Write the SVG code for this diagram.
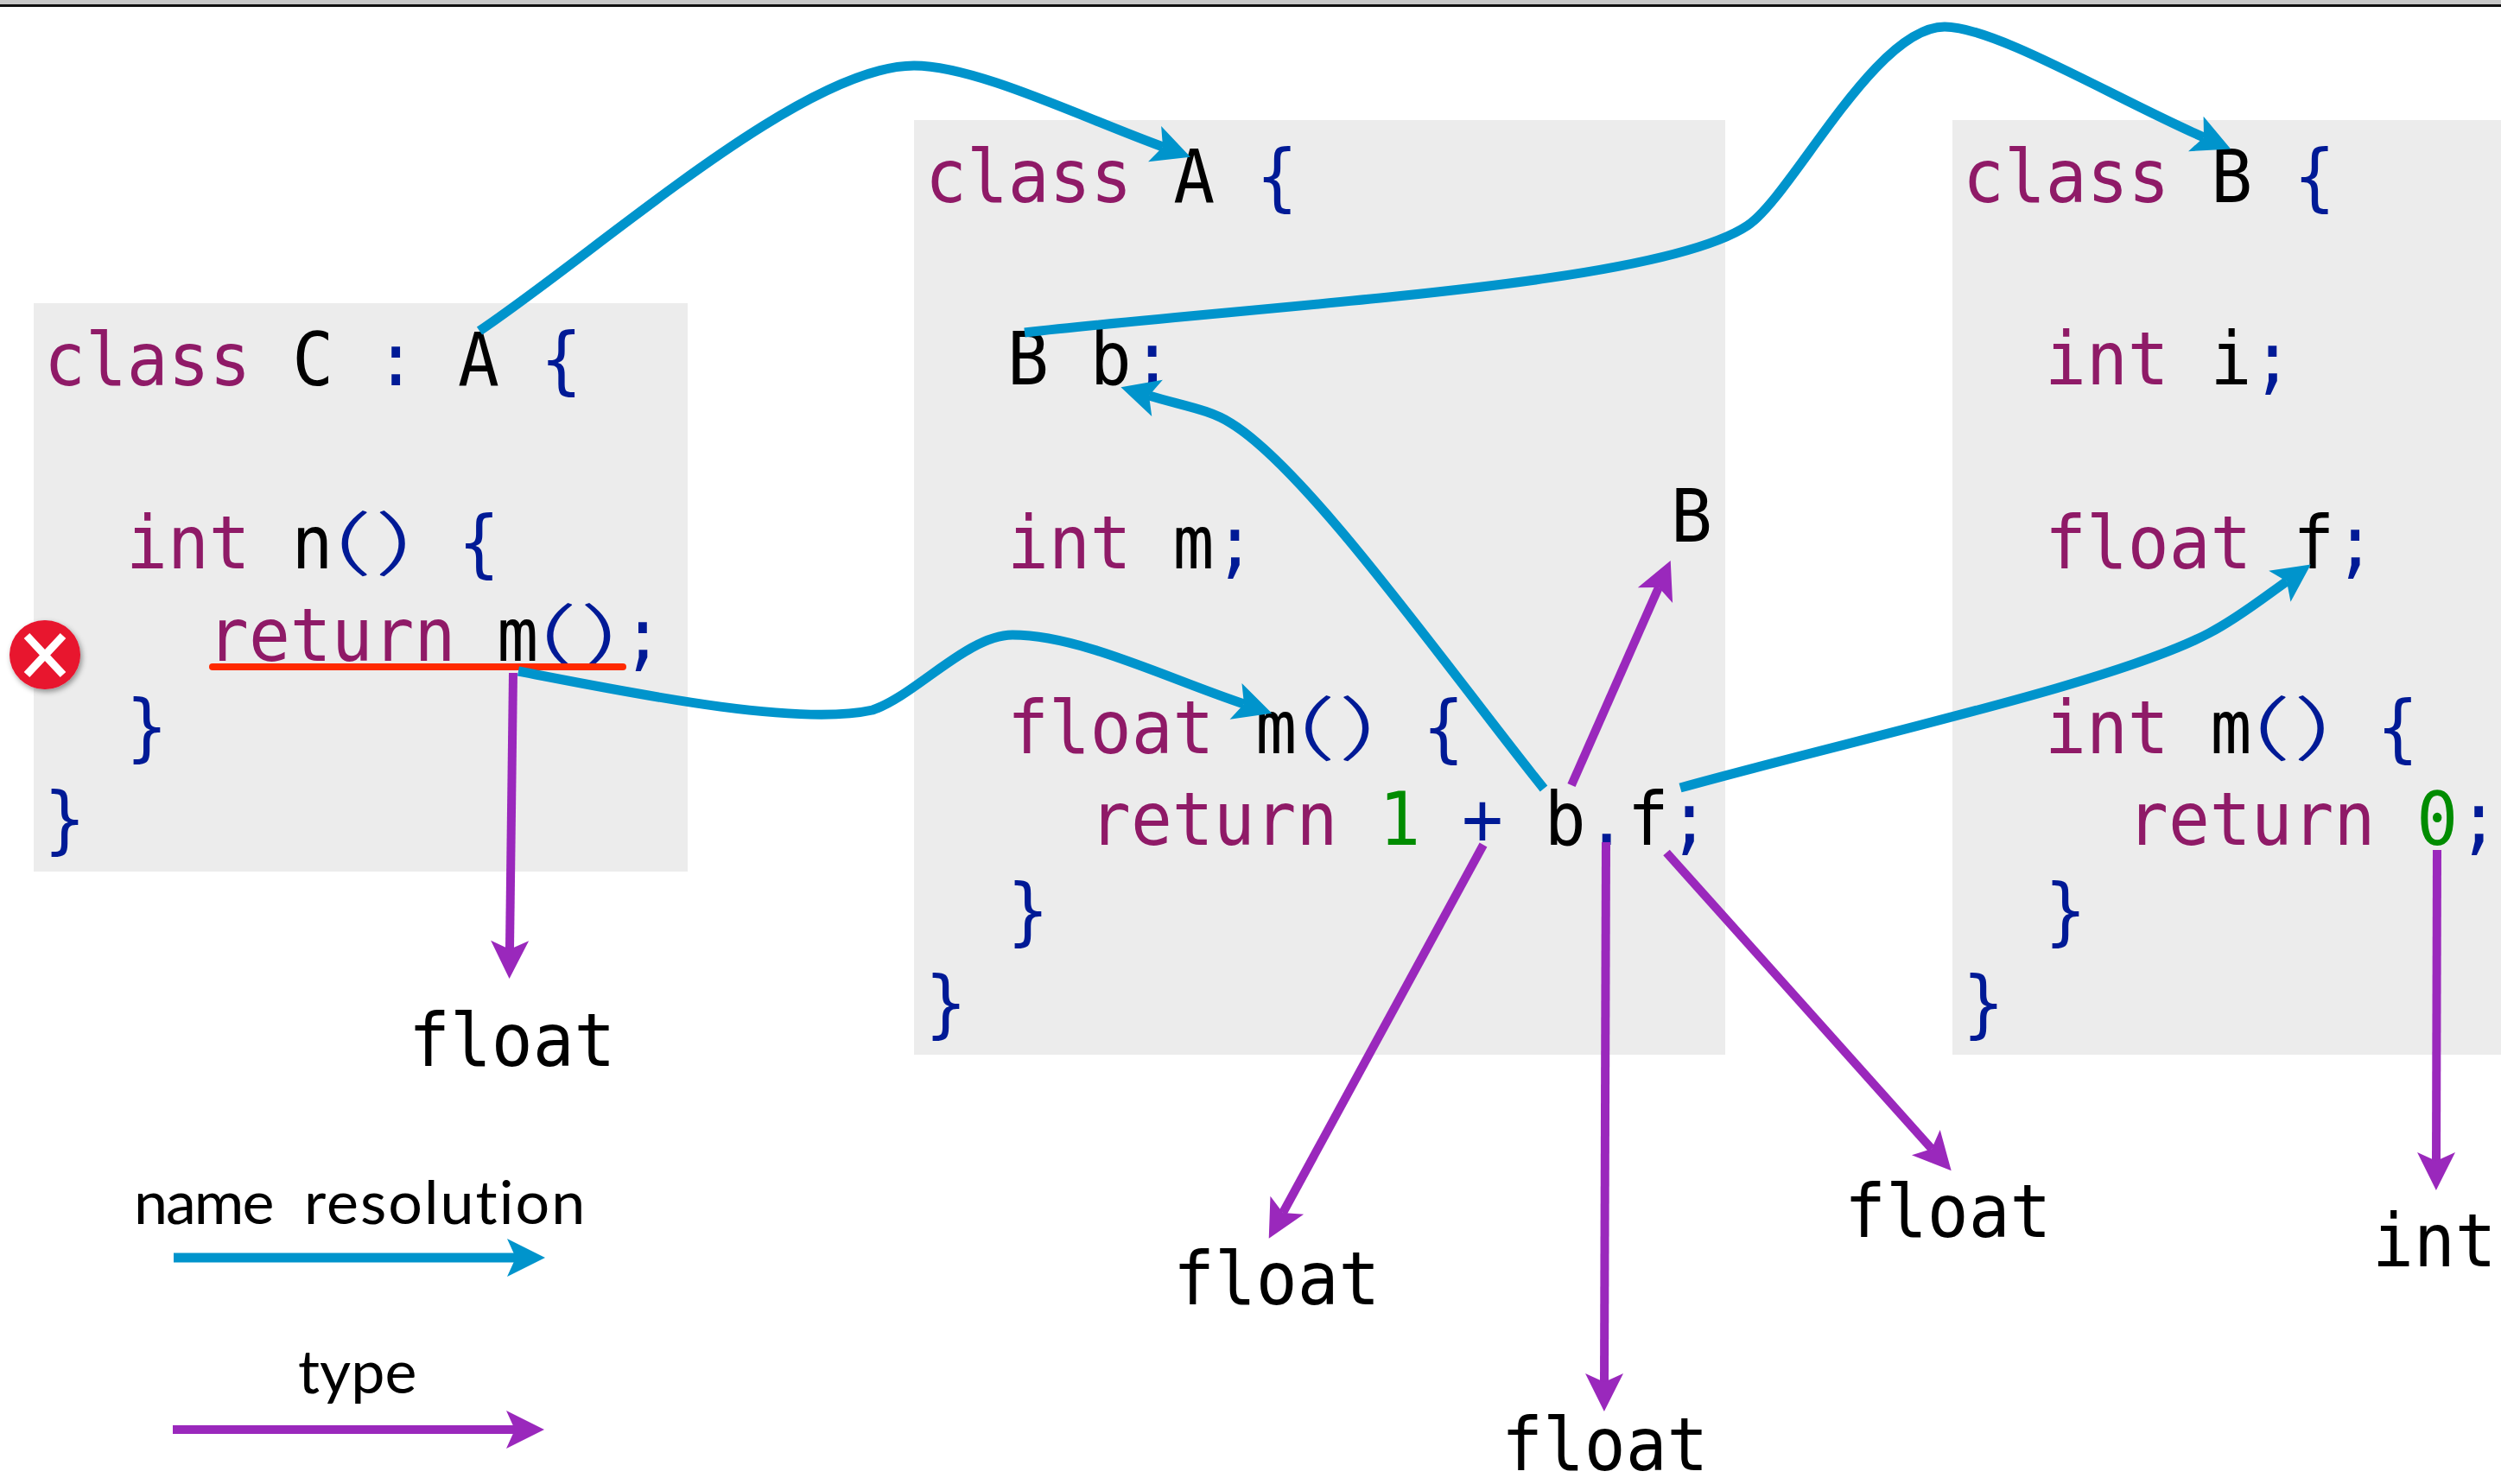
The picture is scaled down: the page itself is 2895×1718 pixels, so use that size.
<svg xmlns="http://www.w3.org/2000/svg" width="2895" height="1718" viewBox="0 0 2895 1718">
<style>
.box{fill:#ececec}
.code{font-family:"DejaVu Sans Mono",monospace;font-size:85px;fill:#000}
.paren{font-family:"Lato",sans-serif;font-weight:300;font-size:85px;letter-spacing:1px;fill:#001a96}
.k{fill:#8f1a67}.p{fill:#001a96}.n{fill:#008c00}
.legend{font-family:"Lato",sans-serif;font-size:70px;fill:#000;font-variant-ligatures:none}
.c{fill:none;stroke-width:10}
.blue{stroke:#0094cc;stroke-width:11;marker-end:url(#hb)}
.purple{stroke:#9a28bc;marker-end:url(#hp)}
</style>
<defs>
<marker id="hb" markerUnits="userSpaceOnUse" markerWidth="46" markerHeight="46" viewBox="0 -23 46 46" refX="10" refY="0" orient="auto" overflow="visible"><path d="M0-22 44 0 0 22 10 0Z" fill="#0094cc"/></marker>
<marker id="hp" markerUnits="userSpaceOnUse" markerWidth="46" markerHeight="46" viewBox="0 -23 46 46" refX="10" refY="0" orient="auto" overflow="visible"><path d="M0-22 44 0 0 22 10 0Z" fill="#9a28bc"/></marker>
<filter id="sh" x="-30%" y="-30%" width="160%" height="160%"><feDropShadow dx="2" dy="3" stdDeviation="3" flood-color="#000" flood-opacity=".4"/></filter>
</defs>
<rect width="2895" height="1718" fill="#fff"/>
<g id="window-edge"><rect width="2895" height="5" fill="#c8c8c8"/><rect y="5" width="2895" height="3" fill="#111"/></g>

<g id="class-c">
<rect class="box" x="39" y="351" width="757" height="658"/>
<text class="code" transform="translate(51 446) scale(.936 1)"><tspan class="k">class</tspan> C <tspan class="p">:</tspan> A <tspan class="p">{</tspan></text>
<text class="code" transform="translate(146 658) scale(.936 1)"><tspan class="k">int</tspan> n</text>
<text class="paren" transform="translate(386 656) scale(2.06 1)">()</text>
<text class="code p" transform="translate(530.5 658) scale(.936 1)">{</text>
<text class="code" transform="translate(240 765) scale(.936 1)"><tspan class="k">return</tspan> m</text>
<text class="paren" transform="translate(623.5 763) scale(2.06 1)">()</text>
<text class="code p" transform="translate(720 765) scale(.936 1)">;</text>
<text class="code p" transform="translate(146 871) scale(.936 1)">}</text>
<text class="code p" transform="translate(51 978) scale(.936 1)">}</text>
</g>

<g id="class-a">
<rect class="box" x="1058" y="139" width="939" height="1082"/>
<text class="code" transform="translate(1071 234) scale(.936 1)"><tspan class="k">class</tspan> A <tspan class="p">{</tspan></text>
<text class="code" transform="translate(1166 445) scale(.936 1)">B b<tspan class="p">;</tspan></text>
<text class="code" transform="translate(1166 658) scale(.936 1)"><tspan class="k">int</tspan> m<tspan class="p">;</tspan></text>
<text class="code" transform="translate(1166 872) scale(.936 1)"><tspan class="k">float</tspan> m</text>
<text class="paren" transform="translate(1501.5 870) scale(2.06 1)">()</text>
<text class="code p" transform="translate(1647 872) scale(.936 1)">{</text>
<text class="code" transform="translate(1261 978) scale(.936 1)"><tspan class="k">return</tspan> <tspan class="n">1</tspan> <tspan class="p">+</tspan> b<tspan class="p">.</tspan>f<tspan class="p">;</tspan></text>
<text class="code p" transform="translate(1166 1084) scale(.936 1)">}</text>
<text class="code p" transform="translate(1071 1191) scale(.936 1)">}</text>
</g>

<g id="class-b">
<rect class="box" x="2260" y="139" width="635" height="1082"/>
<text class="code" transform="translate(2272 234) scale(.936 1)"><tspan class="k">class</tspan> B <tspan class="p">{</tspan></text>
<text class="code" transform="translate(2367 445) scale(.936 1)"><tspan class="k">int</tspan> i<tspan class="p">;</tspan></text>
<text class="code" transform="translate(2367 658) scale(.936 1)"><tspan class="k">float</tspan> f<tspan class="p">;</tspan></text>
<text class="code" transform="translate(2367 872) scale(.936 1)"><tspan class="k">int</tspan> m</text>
<text class="paren" transform="translate(2607 870) scale(2.06 1)">()</text>
<text class="code p" transform="translate(2751.5 872) scale(.936 1)">{</text>
<text class="code" transform="translate(2462 978) scale(.936 1)"><tspan class="k">return</tspan> <tspan class="n">0</tspan><tspan class="p">;</tspan></text>
<text class="code p" transform="translate(2367 1084) scale(.936 1)">}</text>
<text class="code p" transform="translate(2272 1191) scale(.936 1)">}</text>
</g>

<g id="error-mark">
<ellipse cx="52" cy="758" rx="41" ry="40" fill="#e8132f" filter="url(#sh)"/>
<path d="M31 736 73 781M73 736 31 781" stroke="#fff" stroke-width="9" fill="none"/>
<line x1="246" y1="772" x2="721" y2="772" stroke="#ff2a00" stroke-width="8" stroke-linecap="round"/>
</g>

<g id="type-labels">
<text id="label-float-c" class="code" transform="translate(473 1234) scale(.936 1)">float</text>
<text id="label-float-plus" class="code" transform="translate(1358 1510) scale(.936 1)">float</text>
<text id="label-float-dot" class="code" transform="translate(1738 1702) scale(.936 1)">float</text>
<text id="label-float-f" class="code" transform="translate(2135 1432) scale(.936 1)">float</text>
<text id="label-int" class="code" transform="translate(2746 1466) scale(.936 1)">int</text>
<text id="label-b" class="code" transform="translate(1934 627) scale(.936 1)">B</text>
</g>

<g id="legend">
<text class="legend" y="1417"><tspan x="155" style="letter-spacing:-2px">name</tspan> <tspan x="352" style="letter-spacing:2px">resolution</tspan></text>
<text class="legend" x="345" y="1613">type</text>
</g>

<g id="connectors">
<path class="c blue" d="M555 383C700 285 930 76 1058 76C1130 76 1250 135 1346 170"/>
<path class="c blue" d="M1186 385C1500 350 1920 330 2023 261C2075 226 2170 31 2251 31C2310 31 2450 115 2551 159"/>
<path class="c blue" d="M1787 913C1680 780 1515 545 1425 490C1400 474 1370 470 1330 458"/>
<path class="c blue" d="M1945 912C2150 855 2450 790 2557 733C2590 716 2620 692 2647 673"/>
<path class="c blue" d="M600 777C720 800 920 842 1010 822C1060 805 1120 735 1172 735C1250 735 1350 785 1440 815"/>
<path class="c purple" d="M594 779 590 1099"/>
<path class="c purple" d="M1717 978 1485 1404"/>
<path class="c purple" d="M1859 975 1857 1600"/>
<path class="c purple" d="M1929 987 2236 1330"/>
<path class="c purple" d="M1819 909 1920 680"/>
<path class="c purple" d="M2821 984 2820 1344"/>
<path class="c blue" d="M201 1456H597"/>
<path class="c purple" d="M200 1655H596"/>
</g>
</svg>
